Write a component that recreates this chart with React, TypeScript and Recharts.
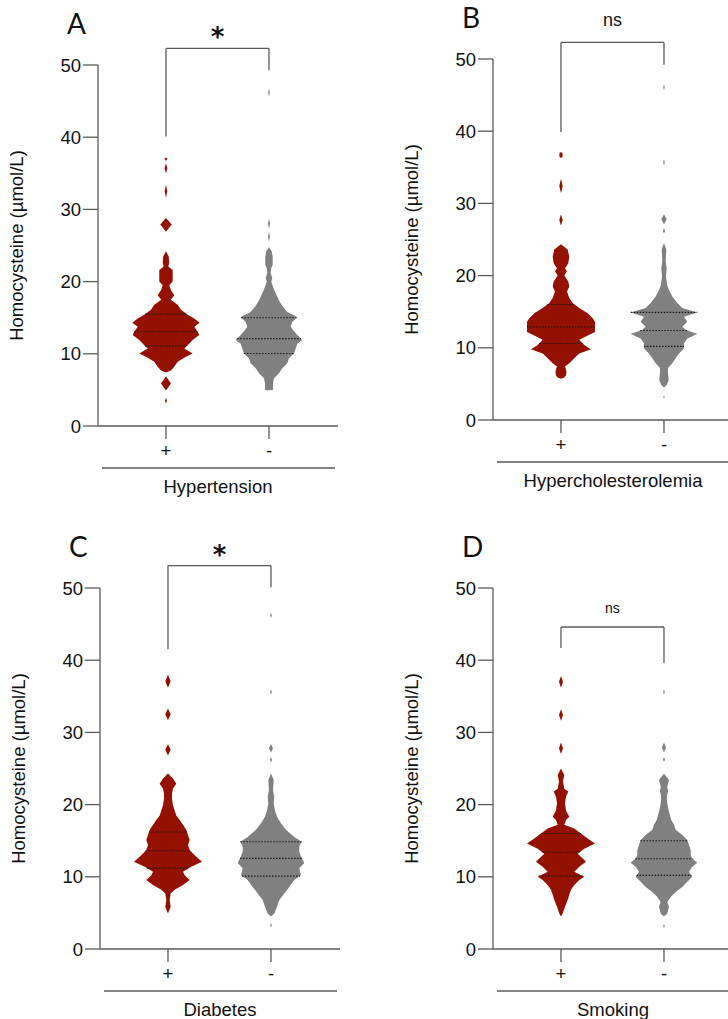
import React from "react";
import { ComposedChart, Area, XAxis, YAxis, ReferenceLine } from "recharts";

type Knot = [number, number]; // [homocysteine µmol/L, violin half-width (density)]

const groupLabels = ["+", "-"];
const yTicks = [0, 10, 20, 30, 40, 50];

const hypertensionPos: Knot[] = [
  [3.1, 0], [3.5, 1], [3.9, 0],
  [4.9, 0], [5.9, 5], [6.9, 0],
  [7.4, 0], [7.7, 5], [8.2, 8.3], [8.9, 11.7], [9.6, 20], [10.05, 26.7], [10.75, 18.3], [11.2, 21.7],
  [11.9, 26.7], [12.6, 33.3], [13.06, 31.7], [13.75, 28.3], [14.3, 33.7], [14.9, 28.3], [15.4, 21.7],
  [16.1, 15], [16.8, 11.7], [17.5, 4.7], [18.1, 8.3], [18.8, 5], [19.5, 3.3], [20.0, 6.7], [21.6, 6.7],
  [22.1, 2.3], [22.6, 3.3], [23.5, 2.7], [24.2, 0],
  [26.9, 0], [27.9, 5.7], [28.8, 0],
  [31.6, 0], [32.5, 1.3], [33.4, 0],
  [35.0, 0], [35.7, 1.4], [36.4, 0], [36.7, 0], [37.0, 1.5], [37.2, 0],
];
const hypertensionNeg: Knot[] = [
  [4.95, 0], [5.0, 4], [5.9, 4], [6.6, 5], [7.3, 10], [8.0, 13.3], [8.7, 18.3], [9.4, 20], [10.05, 25],
  [10.75, 26.7], [11.4, 28.3], [11.9, 33.3], [12.6, 28.3], [13.3, 24], [13.75, 21.7], [14.4, 23.3],
  [15.1, 28.3], [15.8, 18.3], [16.5, 14], [17.2, 10.7], [17.9, 8.3], [18.6, 6], [19.3, 4], [20.0, 2.3],
  [20.5, 3.3], [21.2, 1.7], [21.9, 2.3], [22.3, 3.7], [23.5, 3.7], [24.2, 2.7], [24.8, 0],
  [25.5, 0], [26.2, 1], [26.9, 0], [27.3, 0], [28.0, 1], [28.7, 0],
  [45.6, 0], [46.2, 0.8], [46.8, 0],
];
const cholesterolPos: Knot[] = [
  [5.7, 0], [5.9, 3.5], [6.2, 5], [6.6, 5.5], [7.0, 5], [7.4, 4], [7.85, 8.3], [8.55, 13.3], [9.2, 18.3],
  [9.8, 30], [10.4, 23.3], [11.1, 18.3], [11.8, 28.3], [12.2, 34], [13.6, 34], [14.1, 31.7], [14.8, 26.7],
  [15.5, 18.3], [16.2, 11.7], [16.9, 8.3], [17.8, 6], [18.5, 8.3], [19.2, 7.3], [20.0, 3.3], [20.6, 6],
  [21.0, 4], [21.7, 7.3], [22.6, 8.3], [23.6, 6.7], [24.35, 0],
  [26.9, 0], [27.7, 1.7], [28.5, 0],
  [31.4, 0], [32.4, 1.7], [33.4, 0],
  [36.3, 0], [36.5, 1.7], [37.0, 1.5], [37.1, 0],
];
const cholesterolNeg: Knot[] = [
  [3.0, 0], [3.2, 0.8], [3.4, 0],
  [4.5, 0], [4.85, 2.7], [5.5, 4.7], [6.5, 4], [7.2, 4], [7.85, 8.3], [8.55, 11.7], [9.2, 15], [9.9, 20],
  [10.6, 20], [11.3, 23.3], [11.9, 33.3], [12.5, 21.7], [12.9, 18.3], [13.6, 23.3], [14.3, 20], [14.9, 33.3],
  [15.5, 18.3], [16.2, 13.3], [17.1, 8.3], [18.0, 5], [18.7, 3], [19.9, 2], [21.0, 2.7], [22.0, 1.7],
  [23.6, 2.3], [24.5, 0],
  [25.8, 0], [26.2, 1], [26.6, 0],
  [27.1, 0], [27.8, 2.7], [28.5, 0],
  [35.3, 0], [35.7, 0.8], [36.1, 0],
  [45.7, 0], [46.1, 0.8], [46.5, 0],
];
const diabetesPos: Knot[] = [
  [4.9, 0], [5.85, 2.7], [6.8, 1.7], [7.7, 2.7], [8.2, 6.7], [8.85, 15], [9.55, 21.7], [10.2, 16.7],
  [10.7, 15], [11.4, 23.3], [12.1, 34], [13.0, 26.7], [13.7, 21.7], [14.4, 20], [15.1, 21.7], [15.8, 20],
  [16.5, 18.3], [17.2, 15], [17.85, 11.7], [18.5, 8.3], [19.2, 6.7], [19.9, 5], [20.8, 4], [21.5, 4],
  [22.2, 5], [22.9, 8.3], [23.6, 5], [24.3, 0],
  [26.8, 0], [27.6, 2.7], [28.4, 0],
  [31.7, 0], [32.5, 2.7], [33.3, 0],
  [36.2, 0], [37.1, 2.7], [38.0, 0],
];
const diabetesNeg: Knot[] = [
  [3.0, 0], [3.3, 0.8], [3.6, 0],
  [4.5, 0], [4.9, 3.3], [5.85, 6], [6.8, 8.3], [7.7, 13.3], [8.6, 18.3], [9.55, 23.3], [10.2, 30],
  [11.2, 28.3], [11.9, 33.3], [12.8, 30], [13.5, 28.3], [14.2, 28.3], [14.85, 30.7], [15.5, 23.3],
  [16.5, 15], [17.4, 10], [18.3, 6], [19.2, 4], [20.2, 2.7], [21.1, 3.3], [22.0, 2], [23.4, 2.7], [24.3, 0],
  [25.8, 0], [26.2, 1], [26.6, 0],
  [27.2, 0], [27.8, 2], [28.4, 0],
  [35.2, 0], [35.6, 0.8], [36.0, 0],
  [45.8, 0], [46.2, 0.8], [46.6, 0],
];
const smokingPos: Knot[] = [
  [4.5, 0], [4.9, 1.7], [5.85, 4], [6.8, 6.7], [7.5, 8.3], [8.2, 10], [8.85, 13.3], [9.55, 18.3], [10.0, 23.3],
  [10.7, 13.3], [11.4, 18.3], [12.1, 25], [12.55, 21.7], [13.2, 16.7], [13.9, 23.3], [14.6, 34], [15.3, 26.7],
  [16.0, 20], [16.7, 13.3], [17.2, 3.3], [17.85, 5], [18.3, 8.3], [19.2, 5], [20.2, 4], [21.1, 5], [21.8, 7.3],
  [22.2, 3.3], [23.2, 2], [24.1, 3.3], [25.0, 0],
  [27.0, 0], [27.8, 2], [28.6, 0],
  [31.6, 0], [32.4, 2], [33.2, 0],
  [36.2, 0], [37.0, 2], [37.8, 0],
];
const smokingNeg: Knot[] = [
  [2.9, 0], [3.2, 0.8], [3.5, 0],
  [4.5, 0], [4.9, 3.3], [5.85, 5], [6.5, 3.3], [7.2, 6.7], [7.9, 11.7], [8.6, 18.3], [9.3, 23.3], [10.0, 28.3],
  [10.7, 25], [11.4, 28.3], [11.95, 33.3], [12.55, 28.3], [13.0, 26.7], [13.7, 26.7], [14.4, 25], [15.1, 23.3],
  [15.8, 18.3], [16.5, 11.7], [17.2, 10], [17.85, 7.3], [19.0, 5], [20.1, 3.3], [21.1, 2.7], [21.8, 4],
  [22.5, 3.3], [23.4, 5], [24.3, 0],
  [25.9, 0], [26.25, 1], [26.6, 0],
  [27.2, 0], [27.9, 2], [28.6, 0],
  [35.2, 0], [35.6, 0.8], [36.0, 0],
];

// Q1, median, Q3
const hypertensionQuart = { pos: [11.1, 13.06, 15.5], neg: [10.05, 12.1, 15.0] };
const cholesterolQuart = { pos: [10.6, 12.9, 16.0], neg: [10.2, 12.4, 14.9] };
const diabetesQuart = { pos: [11.2, 13.6, 16.2], neg: [10.1, 12.55, 14.85] };
const smokingQuart = { pos: [10.1, 13.4, 16.0], neg: [10.2, 12.5, 15.0] };

// significance bracket: [left foot, top, right foot]
const hypertensionBracket = [40.1, 52.3, 49.3];
const cholesterolBracket = [39.9, 52.3, 49.2];
const diabetesBracket = [41.5, 53.1, 50.1];
const smokingBracket = [41.7, 44.6, 39.6];

const RED = "#941100";
const GRAY = "#808080";
const AXIS = "#5a5a5a";
const FONT = "'Liberation Sans', Arial, sans-serif";
const K = 1 / 103; // density -> category units

const panels = [
  { letter: "A", title: "Hypertension", pos: hypertensionPos, neg: hypertensionNeg, quart: hypertensionQuart, bracket: hypertensionBracket, sig: "*" },
  { letter: "B", title: "Hypercholesterolemia", pos: cholesterolPos, neg: cholesterolNeg, quart: cholesterolQuart, bracket: cholesterolBracket, sig: "ns" },
  { letter: "C", title: "Diabetes", pos: diabetesPos, neg: diabetesNeg, quart: diabetesQuart, bracket: diabetesBracket, sig: "*" },
  { letter: "D", title: "Smoking", pos: smokingPos, neg: smokingNeg, quart: smokingQuart, bracket: smokingBracket, sig: "ns" },
];

const boxes = [
  { left: 0, top: 0, sigSize: 26, sigGap: 2 },
  { left: 395, top: -6, sigSize: 18, sigGap: 16 },
  { left: 2, top: 523, sigSize: 26, sigGap: 2 },
  { left: 395, top: 523, sigSize: 14, sigGap: 14 },
];

function widthAt(knots: Knot[], y: number) {
  for (let i = 1; i < knots.length; i++) {
    const [y0, w0] = knots[i - 1];
    const [y1, w1] = knots[i];
    if (y >= y0 && y <= y1) return y1 === y0 ? w0 : w0 + ((w1 - w0) * (y - y0)) / (y1 - y0);
  }
  return 0;
}

function YTitle(props: any) {
  const vb = props.viewBox;
  if (!vb) return null;
  const axisX = vb.x + vb.width;
  const cy = vb.y + vb.height / 2;
  return (
    <g>
      <text x={axisX - 31} y={vb.y - 31} fontFamily="Lato, sans-serif" fontSize={28} fill="#111">
        {props.letter}
      </text>
      <text
        transform={`translate(${axisX - 75}, ${cy}) rotate(-90)`}
        textAnchor="middle"
        fontFamily={FONT}
        fontSize={18.5}
        fill="#111"
      >
        Homocysteine (µmol/L)
      </text>
    </g>
  );
}

function XTitle(props: any) {
  const vb = props.viewBox;
  if (!vb) return null;
  return (
    <g>
      <line x1={vb.x + 4} x2={vb.x + vb.width - 3} y1={vb.y + 42} y2={vb.y + 42} stroke={AXIS} strokeWidth={1.3} />
      <text x={vb.x + vb.width / 2} y={vb.y + 67} textAnchor="middle" fontFamily={FONT} fontSize={18.5} fill="#111">
        {props.text}
      </text>
    </g>
  );
}

function SigLabel(props: any) {
  const vb = props.viewBox;
  if (!vb) return null;
  const isStar = props.text === "*";
  return (
    <text
      x={vb.x + vb.width / 2}
      y={vb.y - props.gap}
      textAnchor="middle"
      fontFamily={isStar ? "'DejaVu Sans', sans-serif" : FONT}
      fontWeight={isStar ? "bold" : "normal"}
      fontSize={props.size}
      fill="#111"
    >
      {props.text}
    </text>
  );
}

function Panel({ p, box }: { p: (typeof panels)[number]; box: (typeof boxes)[number] }) {
  const posData = p.pos.map(([y, w]) => ({ y, band: [1 - w * K, 1 + w * K] }));
  const negData = p.neg.map(([y, w]) => ({ y, band: [2 - w * K, 2 + w * K] }));
  const [footL, top, footR] = p.bracket;
  const quartLines = [
    ...p.quart.pos.map((q) => ({ q, c: 1, w: widthAt(p.pos, q) * K })),
    ...p.quart.neg.map((q) => ({ q, c: 2, w: widthAt(p.neg, q) * K })),
  ];
  return (
    <div style={{ position: "absolute", left: box.left, top: box.top }}>
      <ComposedChart width={340} height={500} layout="vertical" margin={{ top: 65, right: 2, bottom: 0, left: 0 }}>
        <XAxis
          type="number"
          domain={[0.34, 2.67]}
          allowDataOverflow
          ticks={[1, 2]}
          tickFormatter={(v: number) => groupLabels[v - 1]}
          tickSize={13}
          tickMargin={5}
          height={74}
          stroke={AXIS}
          strokeWidth={1.3}
          tick={{ fontSize: 18.5, fontFamily: FONT, fill: "#111" }}
          label={<XTitle text={p.title} />}
        />
        <YAxis
          type="number"
          dataKey="y"
          domain={[0, 50]}
          reversed
          allowDataOverflow
          ticks={yTicks}
          width={98}
          tickSize={15}
          tickMargin={2}
          stroke={AXIS}
          strokeWidth={1.3}
          tick={{ fontSize: 18.5, fontFamily: FONT, fill: "#111" }}
          label={<YTitle letter={p.letter} />}
        />
        <Area data={posData} dataKey="band" type="linear" fill={RED} fillOpacity={1} stroke="none" dot={false} activeDot={false} isAnimationActive={false} />
        <Area data={negData} dataKey="band" type="linear" fill={GRAY} fillOpacity={1} stroke="none" dot={false} activeDot={false} isAnimationActive={false} />
        {quartLines.map((l, i) => (
          <ReferenceLine
            key={`q${i}`}
            segment={[{ x: l.c - l.w, y: l.q }, { x: l.c + l.w, y: l.q }]}
            stroke="#1a1a1a"
            strokeWidth={1.1}
            strokeDasharray="1.5 1.5"
            ifOverflow="visible"
          />
        ))}
        <ReferenceLine segment={[{ x: 1, y: footL }, { x: 1, y: top }]} stroke={AXIS} strokeWidth={1.3} ifOverflow="visible" />
        <ReferenceLine
          segment={[{ x: 1, y: top }, { x: 2, y: top }]}
          stroke={AXIS}
          strokeWidth={1.3}
          ifOverflow="visible"
          label={<SigLabel text={p.sig} size={box.sigSize} gap={box.sigGap} />}
        />
        <ReferenceLine segment={[{ x: 2, y: top }, { x: 2, y: footR }]} stroke={AXIS} strokeWidth={1.3} ifOverflow="visible" />
      </ComposedChart>
    </div>
  );
}

export default function App() {
  return (
    <div style={{ position: "absolute", left: 0, top: 0, width: 728, height: 1019, overflow: "hidden", background: "#fff" }}>
      {panels.map((p, i) => (
        <Panel key={p.letter} p={p} box={boxes[i]} />
      ))}
    </div>
  );
}
